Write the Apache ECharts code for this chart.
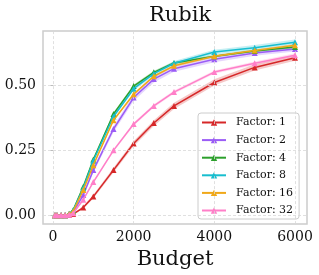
<!DOCTYPE html>
<html><head><meta charset="utf-8">
<script src="https://cdn.jsdelivr.net/npm/echarts@6/dist/echarts.min.js"></script>
<style>html,body{margin:0;padding:0;background:#fff}#c{width:319px;height:275px}</style>
</head><body><div id="c"></div>
<script>
const budgets = [50, 100, 200, 300, 400, 500, 750, 1000, 1500, 2000, 2500, 3000, 4000, 5000, 6000];
const factor1  = [0, 0, 0, 0, 0.002, 0.005, 0.030, 0.072, 0.174, 0.276, 0.355, 0.421, 0.511, 0.569, 0.606];
const factor2  = [0, 0, 0, 0, 0.004, 0.012, 0.078, 0.174, 0.332, 0.453, 0.524, 0.564, 0.600, 0.624, 0.640];
const factor4  = [0, 0, 0, 0, 0.006, 0.020, 0.110, 0.215, 0.390, 0.497, 0.550, 0.586, 0.612, 0.632, 0.647];
const factor8  = [0, 0, 0, 0, 0.005, 0.018, 0.104, 0.210, 0.380, 0.487, 0.545, 0.585, 0.628, 0.645, 0.666];
const factor16 = [0, 0, 0, 0, 0.005, 0.015, 0.097, 0.193, 0.366, 0.466, 0.535, 0.575, 0.612, 0.634, 0.654];
const factor32 = [0, 0, 0, 0, 0.002, 0.008, 0.060, 0.128, 0.250, 0.351, 0.421, 0.474, 0.551, 0.585, 0.616];
// half-widths of the shaded bands
const spread1  = [0, 0, 0, 0, 0.002, 0.003, 0.005, 0.007, 0.009, 0.010, 0.011, 0.012, 0.012, 0.012, 0.011];
const spread2  = [0, 0, 0, 0, 0.002, 0.004, 0.008, 0.010, 0.012, 0.013, 0.013, 0.012, 0.011, 0.010, 0.010];
const spread4  = [0, 0, 0, 0, 0.002, 0.003, 0.005, 0.006, 0.006, 0.006, 0.006, 0.006, 0.005, 0.005, 0.005];
const spread8  = [0, 0, 0, 0, 0.002, 0.003, 0.005, 0.006, 0.007, 0.008, 0.008, 0.009, 0.009, 0.010, 0.010];
const spread16 = [0, 0, 0, 0, 0.002, 0.003, 0.004, 0.005, 0.005, 0.005, 0.005, 0.005, 0.005, 0.005, 0.005];
const spread32 = [0, 0, 0, 0, 0.001, 0.002, 0.004, 0.005, 0.005, 0.006, 0.006, 0.006, 0.006, 0.007, 0.007];
const names = ['Factor: 1', 'Factor: 2', 'Factor: 4', 'Factor: 8', 'Factor: 16', 'Factor: 32'];
const colors = ['#d62728', '#9b5cf6', '#2ca02c', '#17becf', '#f0a818', '#ff7fc8'];
const xTicks = [0, 2000, 4000, 6000];
const yTicks = [0, 0.25, 0.5];

const allVals = [factor1, factor2, factor4, factor8, factor16, factor32];
const allSpreads = [spread1, spread2, spread4, spread8, spread16, spread32];
const FONT = 'DejaVu Serif';
const series = [];

// grid lines from tick arrays
series.push({
  type: 'line', data: [], silent: true,
  markLine: {
    silent: true, symbol: 'none', label: { show: false }, animation: false,
    lineStyle: { color: '#d8d8d8', type: [3, 2], width: 0.8 },
    data: xTicks.map(v => ({ xAxis: v })).concat(yTicks.map(v => ({ yAxis: v })))
  }
});

allVals.forEach((vals, k) => {
  const sp = allSpreads[k];
  series.push({
    type: 'custom', silent: true, z: 1,
    data: [[k]],
    renderItem: function (params, api) {
      const up = budgets.map((b, i) => api.coord([b, vals[i] + sp[i]]));
      const lo = budgets.map((b, i) => api.coord([b, vals[i] - sp[i]])).reverse();
      return {
        type: 'polygon',
        shape: { points: up.concat(lo) },
        style: { fill: colors[k], opacity: 0.25 }
      };
    }
  });
});
allVals.forEach((vals, k) => {
  series.push({
    name: names[k], type: 'line', z: 3 + k,
    symbol: 'triangle', symbolSize: 6,
    itemStyle: { color: colors[k] },
    lineStyle: { color: colors[k], width: 1.5 },
    data: budgets.map((b, i) => [b, vals[i]])
  });
});

const chart = echarts.init(document.getElementById('c'), null, { renderer: 'canvas' });
chart.setOption({
  animation: false,
  backgroundColor: '#fff',
  title: {
    text: 'Rubik', left: 175, top: 0, textAlign: 'center',
    textStyle: { fontFamily: FONT, fontSize: 21, fontWeight: 'normal', color: '#111' }
  },
  legend: {
    data: names, left: 198, top: 113, orient: 'vertical',
    padding: [4, 6, 3, 3], itemWidth: 24, itemHeight: 8, itemGap: 6.6,
    backgroundColor: 'rgba(255,255,255,0.8)', borderColor: '#ccc', borderWidth: 1, borderRadius: 3,
    textStyle: { fontFamily: FONT, fontSize: 11, color: '#111', padding: [0, 0, 0, 5] }
  },
  grid: { left: 43, right: 12, top: 31, bottom: 48, show: true, borderColor: '#ccc', borderWidth: 1.5, containLabel: false },
  xAxis: {
    type: 'value', min: -247.5, max: 6297.5,
    name: 'Budget', nameLocation: 'middle', nameGap: 15,
    nameTextStyle: { fontFamily: FONT, fontSize: 21, color: '#111' },
    axisLine: { show: false },
    axisTick: { show: true, customValues: xTicks, length: 3, lineStyle: { color: '#bbb' } },
    axisLabel: { customValues: xTicks, fontFamily: FONT, fontSize: 14, color: '#111', margin: 6,
      formatter: v => String(Math.round(v)) },
    splitLine: { show: false }
  },
  yAxis: {
    type: 'value', min: -0.0337, max: 0.709,
    axisLine: { show: false },
    axisTick: { show: true, customValues: yTicks, length: 3, lineStyle: { color: '#bbb' } },
    axisLabel: { customValues: yTicks, fontFamily: FONT, fontSize: 14, color: '#111', margin: 7,
      formatter: v => v.toFixed(2) },
    splitLine: { show: false }
  },
  series: series
});
</script></body></html>
